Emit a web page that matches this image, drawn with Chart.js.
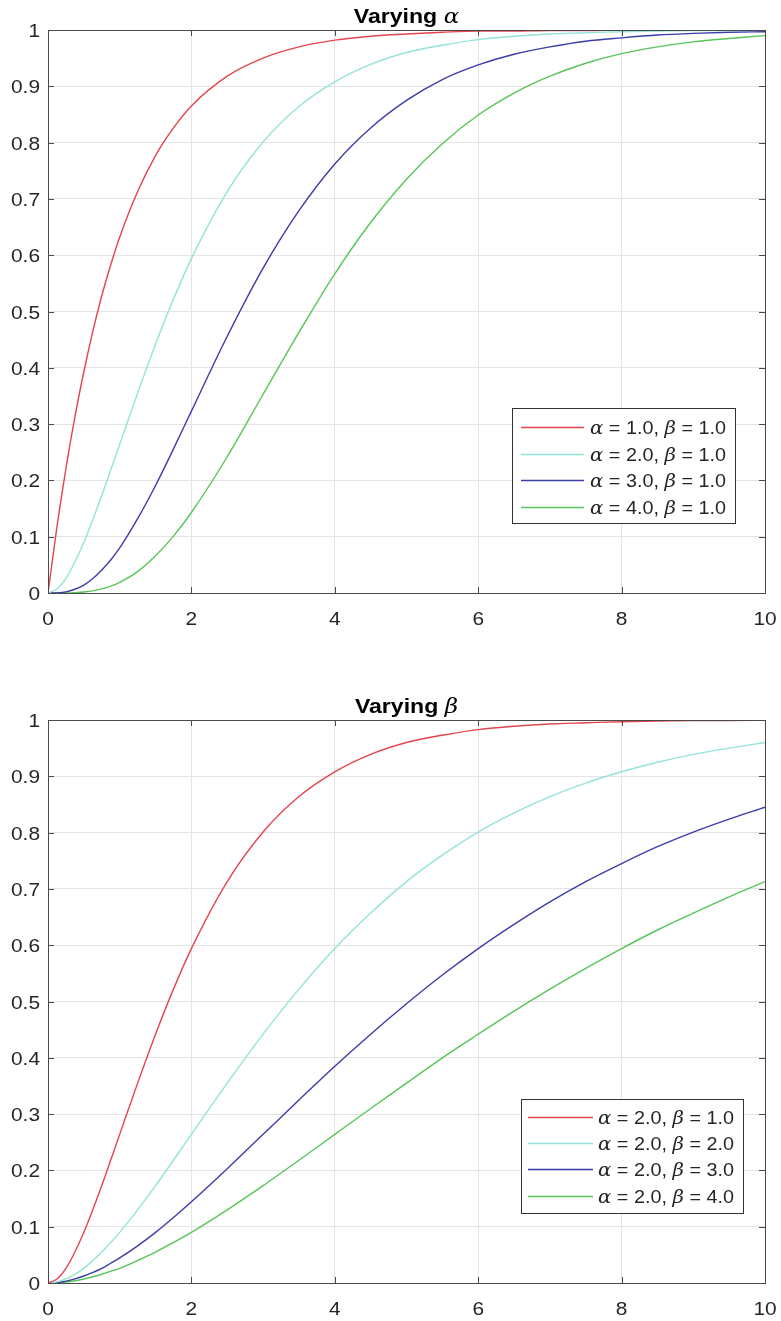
<!DOCTYPE html>
<html><head><meta charset="utf-8">
<script src="https://cdn.jsdelivr.net/npm/chart.js@4/dist/chart.umd.min.js"></script>
<style>
html,body{margin:0;padding:0;background:#fff;}
.wrap{position:relative;width:781px;}
</style></head><body>
<div class="wrap" style="height:660px"><canvas id="c1"></canvas></div>
<div class="wrap" style="height:661px"><canvas id="c2"></canvas></div>
<script>
// ---- data ----
const xValues = [0,0.125,0.25,0.375,0.5,0.625,0.75,0.875,1,1.25,1.5,1.75,2,2.5,3,3.5,4,4.5,5,5.5,6,6.5,7,7.5,8,8.5,9,9.5,10];

// Top panel: varying alpha (beta = 1)
const topLabels = ['α = 1.0, β = 1.0','α = 2.0, β = 1.0','α = 3.0, β = 1.0','α = 4.0, β = 1.0'];
const topA1 = [0,0.1175,0.221,0.3127,0.393,0.4647,0.528,0.5831,0.632,0.713,0.777,0.826,0.865,0.918,0.950,0.970,0.982,0.989,0.993,0.996,0.998,0.998,0.999,0.999,1.0,1.0,1.0,1.0,1.0];
const topA2 = [0,0.0072,0.026,0.055,0.090,0.1301,0.173,0.2183,0.264,0.355,0.442,0.522,0.594,0.713,0.801,0.864,0.908,0.939,0.960,0.973,0.983,0.989,0.993,0.995,0.997,0.998,0.999,0.999,0.9995];
const topA3 = [0,0.0003,0.002,0.0067,0.014,0.0256,0.041,0.0587,0.080,0.132,0.191,0.256,0.323,0.456,0.577,0.679,0.762,0.826,0.875,0.912,0.938,0.957,0.970,0.980,0.986,0.991,0.994,0.996,0.997];
const topA4 = [0,0,0.0001,0.0007,0.0018,0.0038,0.0073,0.0122,0.019,0.038,0.066,0.101,0.143,0.242,0.353,0.463,0.567,0.658,0.735,0.798,0.849,0.888,0.918,0.941,0.958,0.970,0.979,0.985,0.990];

// Bottom panel: varying beta (alpha = 2)
const botLabels = ['α = 2.0, β = 1.0','α = 2.0, β = 2.0','α = 2.0, β = 3.0','α = 2.0, β = 4.0'];
const botB1 = [0,0.0072,0.026,0.055,0.090,0.1301,0.173,0.2183,0.264,0.355,0.442,0.522,0.594,0.713,0.801,0.864,0.908,0.939,0.960,0.973,0.983,0.989,0.993,0.995,0.997,0.998,0.999,0.999,0.9995];
const botB2 = [0,0.0019,0.0072,0.0155,0.026,0.040,0.055,0.072,0.090,0.130,0.173,0.218,0.264,0.355,0.442,0.522,0.594,0.657,0.713,0.760,0.801,0.835,0.864,0.888,0.908,0.925,0.939,0.950,0.960];
const botB3 = [0,0.0008,0.0033,0.0072,0.0124,0.0188,0.026,0.0351,0.0446,0.066,0.090,0.1165,0.1443,0.203,0.264,0.325,0.385,0.442,0.496,0.547,0.594,0.637,0.677,0.713,0.745,0.775,0.801,0.824,0.845];
const botB4 = [0,0.0005,0.0019,0.0041,0.0072,0.0111,0.0155,0.0207,0.026,0.040,0.055,0.072,0.090,0.130,0.173,0.218,0.264,0.310,0.355,0.400,0.442,0.483,0.522,0.559,0.594,0.627,0.657,0.686,0.713];

const yTickLabels = ['0','0.1','0.2','0.3','0.4','0.5','0.6','0.7','0.8','0.9','1'];
const xTickLabels = ['0','2','4','6','8','10'];
const seriesColors = ['#e3454c','#94e3d9','#3c3caa','#58c558'];

// ---- helpers ----
const SANS = '"Liberation Sans", Arial, Helvetica, sans-serif';
const GREEK = '"DejaVu Serif", "Liberation Serif", serif';
const SX = 1.1; // horizontal stretch of the reference's text
const TXT = '#262626';
function pts(ys){ return xValues.map((x,i)=>({x:x,y:ys[i]})); }

function segsOf(text){
  const segs = [];
  for (const ch of text){
    const g = /[α-ω]/.test(ch);
    if (segs.length && segs[segs.length-1].g===g) segs[segs.length-1].t += ch;
    else segs.push({t:ch,g:g});
  }
  return segs;
}
function fontFor(g, size, weight){ return g ? ('italic ' + size + 'px ' + GREEK) : (weight + ' ' + size + 'px ' + SANS); }
function measureMixed(ctx, text, size, weight){
  let w = 0;
  for (const s of segsOf(text)){ ctx.font = fontFor(s.g,size,weight); w += ctx.measureText(s.t).width; }
  return w * SX;
}
// draw text, left edge at x, baseline at y, stretched horizontally by SX
function drawMixed(ctx, text, x, y, size, weight, color){
  ctx.save();
  ctx.translate(x, y);
  ctx.scale(SX, 1);
  ctx.fillStyle = color;
  ctx.textBaseline = 'alphabetic';
  ctx.textAlign = 'left';
  let cx = 0;
  for (const s of segsOf(text)){
    ctx.font = fontFor(s.g,size,weight);
    ctx.fillText(s.t, cx, 0);
    cx += ctx.measureText(s.t).width;
  }
  ctx.restore();
}

const matlabPlugin = {
  id: 'matlab',
  afterDraw(chart, args, opts){
    const ctx = chart.ctx, a = chart.chartArea;
    const xs = chart.scales.x, ys = chart.scales.y;
    ctx.save();
    // box
    ctx.strokeStyle = '#4a4a4a';
    ctx.lineWidth = 1;
    ctx.strokeRect(Math.round(a.left)+0.5, Math.round(a.top)+0.5, Math.round(a.right-a.left), Math.round(a.bottom-a.top));
    // inward ticks
    const tl = 6;
    ctx.beginPath();
    xs.ticks.forEach(t=>{
      const px = Math.round(xs.getPixelForValue(t.value))+0.5;
      ctx.moveTo(px, a.bottom); ctx.lineTo(px, a.bottom - tl);
      ctx.moveTo(px, a.top); ctx.lineTo(px, a.top + tl);
    });
    ys.ticks.forEach(t=>{
      const py = Math.round(ys.getPixelForValue(t.value))+0.5;
      ctx.moveTo(a.left, py); ctx.lineTo(a.left + tl, py);
      ctx.moveTo(a.right, py); ctx.lineTo(a.right - tl, py);
    });
    ctx.stroke();
    // tick labels
    const fs = 19;
    xs.ticks.forEach(t=>{
      const i = Math.round(t.value/2);
      const lab = xTickLabels[i];
      if (lab === undefined) return;
      const w = measureMixed(ctx, lab, fs, 'normal');
      drawMixed(ctx, lab, xs.getPixelForValue(t.value) - w/2, a.bottom + 32, fs, 'normal', TXT);
    });
    ys.ticks.forEach(t=>{
      const i = Math.round(t.value*10);
      const lab = yTickLabels[i];
      if (lab === undefined) return;
      const w = measureMixed(ctx, lab, fs, 'normal');
      drawMixed(ctx, lab, a.left - 8 - w, ys.getPixelForValue(t.value) + 7, fs, 'normal', TXT);
    });
    // title
    const tsize = 21;
    const tw = measureMixed(ctx, opts.title, tsize, 'bold');
    drawMixed(ctx, opts.title, (a.left + a.right)/2 - tw/2, a.top - 7, tsize, 'bold', '#000');
    // legend box
    const L = opts.legend;
    const bx = a.right - L.right - L.width, by = a.bottom - L.bottom - L.height;
    ctx.fillStyle = '#fff';
    ctx.fillRect(bx, by, L.width, L.height);
    ctx.strokeStyle = '#333';
    ctx.lineWidth = 1;
    ctx.strokeRect(Math.round(bx)+0.5, Math.round(by)+0.5, L.width, L.height);
    chart.data.datasets.forEach((ds,i)=>{
      const ry = Math.round(by + L.first + i*L.step) + 0.5;
      ctx.strokeStyle = ds.borderColor;
      ctx.lineWidth = 1.4;
      ctx.beginPath();
      ctx.moveTo(bx + L.lineL, ry); ctx.lineTo(bx + L.lineR, ry);
      ctx.stroke();
      drawMixed(ctx, ds.label, bx + L.textX, ry + 6.5, 18, 'normal', TXT);
    });
    ctx.restore();
  }
};

function makeChart(id, labels, series, title, legend, padTop, padBottom){
  const datasets = series.map((s,i)=>({
    label: labels[i],
    data: pts(s),
    borderColor: seriesColors[i],
    backgroundColor: seriesColors[i],
    borderWidth: 1.4,
    pointRadius: 0,
    fill: false,
    cubicInterpolationMode: 'monotone'
  }));
  return new Chart(document.getElementById(id), {
    type: 'line',
    data: { datasets },
    options: {
      responsive: true,
      maintainAspectRatio: false,
      animation: false,
      layout: { padding: { left: 0, right: 16, top: padTop, bottom: padBottom } },
      plugins: {
        legend: { display: false },
        tooltip: { enabled: false },
        title: { display: false },
        matlab: { title: title, legend: legend }
      },
      scales: {
        x: {
          type: 'linear', min: 0, max: 10,
          afterFit(s){ s.height = 38; s.paddingLeft = 0; s.paddingRight = 0; },
          grid: { color: '#e4e4e4', lineWidth: 1, drawTicks: false },
          border: { display: false },
          ticks: { stepSize: 2, display: false }
        },
        y: {
          type: 'linear', min: 0, max: 1,
          afterFit(s){ s.width = 48; s.paddingTop = 0; s.paddingBottom = 0; },
          grid: { color: '#e4e4e4', lineWidth: 1, drawTicks: false },
          border: { display: false },
          ticks: { stepSize: 0.1, display: false }
        }
      }
    },
    plugins: [matlabPlugin]
  });
}

makeChart('c1', topLabels, [topA1, topA2, topA3, topA4], 'Varying α',
  { right: 30, bottom: 70, width: 223, height: 115, first: 19, step: 26.7, lineL: 9, lineR: 72, textX: 78 }, 30, 29);
makeChart('c2', botLabels, [botB1, botB2, botB3, botB4], 'Varying β',
  { right: 22, bottom: 70, width: 222, height: 114, first: 18, step: 26.2, lineL: 7, lineR: 72, textX: 77 }, 60, 0);
</script>
</body></html>
